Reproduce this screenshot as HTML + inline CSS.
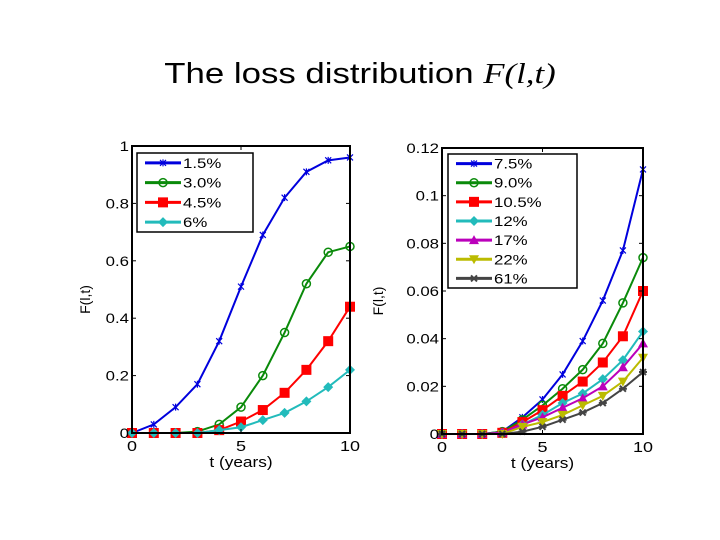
<!DOCTYPE html>
<html><head><meta charset="utf-8"><style>
body{margin:0;background:#fff;width:720px;height:540px;overflow:hidden;font-family:"Liberation Sans",sans-serif}
svg{position:absolute;left:0;top:0}
</style></head><body>
<svg width="720" height="540" id="svg">
<text x="0" y="0" transform="translate(360,83) scale(1.2,1)" text-anchor="middle" font-size="29" font-family="Liberation Sans, sans-serif">The loss distribution <tspan font-family="Liberation Serif, serif" font-style="italic">F(l,t)</tspan></text>
</svg>
<script>
const tVals=[0,1,2,3,4,5,6,7,8,9,10];
const leftLabels=["1.5%","3.0%","4.5%","6%"];
const leftA=[0,0.03,0.09,0.17,0.32,0.51,0.69,0.82,0.91,0.95,0.96];
const leftB=[0,0,0,0.005,0.03,0.09,0.2,0.35,0.52,0.63,0.65];
const leftC=[0,0,0,0,0.01,0.04,0.08,0.14,0.22,0.32,0.44];
const leftD=[0,0,0,0,0.01,0.02,0.045,0.07,0.11,0.16,0.22];
const rightLabels=["7.5%","9.0%","10.5%","12%","17%","22%","61%"];
const rightA=[0,0,0,0.001,0.007,0.0145,0.025,0.039,0.056,0.077,0.111];
const rightB=[0,0,0,0.001,0.006,0.012,0.019,0.027,0.038,0.055,0.074];
const rightC=[0,0,0,0.0005,0.005,0.01,0.016,0.022,0.03,0.041,0.06];
const rightD=[0,0,0,0.0005,0.004,0.008,0.013,0.017,0.023,0.031,0.043];
const rightE=[0,0,0,0.0005,0.004,0.007,0.011,0.015,0.02,0.028,0.038];
const rightF=[0,0,0,0,0.003,0.005,0.008,0.012,0.016,0.022,0.032];
const rightG=[0,0,0,0,0.001,0.003,0.006,0.009,0.013,0.019,0.026];
const leftYTicks=[0,0.2,0.4,0.6,0.8,1];
const leftYTickLabels=["0","0.2","0.4","0.6","0.8","1"];
const rightYTicks=[0,0.02,0.04,0.06,0.08,0.1,0.12];
const rightYTickLabels=["0","0.02","0.04","0.06","0.08","0.1","0.12"];
const xTicks=[0,5,10];

const svg=document.getElementById('svg');
const NS='http://www.w3.org/2000/svg';
function mk(tag,attrs,parent){const e=document.createElementNS(NS,tag);for(const k in attrs)e.setAttribute(k,attrs[k]);(parent||svg).appendChild(e);return e;}
function marker(g,shape,x,y,c){
  if(shape==='x'){mk('path',{d:`M${x-3},${y-3}L${x+3},${y+3}M${x-3},${y+3}L${x+3},${y-3}M${x},${y-3.5}L${x},${y+3.5}`,stroke:c,'stroke-width':1.2},g);}
  else if(shape==='o'){mk('circle',{cx:x,cy:y,r:4,fill:'none',stroke:c,'stroke-width':1.5},g);}
  else if(shape==='s'){mk('rect',{x:x-5,y:y-5,width:10,height:10,fill:c},g);}
  else if(shape==='d'){mk('path',{d:`M${x},${y-5}L${x+5},${y}L${x},${y+5}L${x-5},${y}Z`,fill:c},g);}
  else if(shape==='^'){mk('path',{d:`M${x},${y-5}L${x+5},${y+4}L${x-5},${y+4}Z`,fill:c},g);}
  else if(shape==='v'){mk('path',{d:`M${x},${y+5}L${x+5},${y-4}L${x-5},${y-4}Z`,fill:c},g);}
  else if(shape==='*'){mk('path',{d:`M${x-3},${y-3}L${x+3},${y+3}M${x-3},${y+3}L${x+3},${y-3}M${x-4},${y}L${x+4},${y}`,stroke:c,'stroke-width':2},g);}
}
function panel(name,box,ymax,yt,ytl,series,labels,colors,shapes,widths,leg){
  const xs=v=>box.x0+(box.x1-box.x0)*v/10;
  const ys=v=>box.y1-(box.y1-box.y0)*v/ymax;
  const g=mk('g',{});
  
  
  series.forEach((s,i)=>{
    const sg=mk('g',{},g);
    
    
    mk('polyline',{points:s.map((v,j)=>xs(tVals[j])+','+ys(v)).join(' '),fill:'none',stroke:colors[i],'stroke-width':widths[i]},sg);
    s.forEach((v,j)=>marker(sg,shapes[i],xs(tVals[j]),ys(v),colors[i]));
  });
  const fr=mk('rect',{x:box.x0,y:box.y0,width:box.x1-box.x0,height:box.y1-box.y0,fill:'none',stroke:'#000','stroke-width':2},g);
  
  
  yt.forEach((v,i)=>{
    mk('line',{x1:box.x0,x2:box.x0+4,y1:ys(v),y2:ys(v),stroke:'#000'},g);
    mk('line',{x1:box.x1,x2:box.x1-4,y1:ys(v),y2:ys(v),stroke:'#000'},g);
    const t=mk('text',{x:0,y:0,transform:`translate(${box.x0-3},${ys(v)+5}) scale(1.2,1)`,'text-anchor':'end','font-size':14},g);t.textContent=ytl[i];
    
    
  });
  xTicks.forEach(v=>{
    mk('line',{x1:xs(v),x2:xs(v),y1:box.y1,y2:box.y1-4,stroke:'#000'},g);
    mk('line',{x1:xs(v),x2:xs(v),y1:box.y0,y2:box.y0+4,stroke:'#000'},g);
    const t=mk('text',{x:0,y:0,transform:`translate(${xs(v)},${box.y1+18}) scale(1.2,1)`,'text-anchor':'middle','font-size':15},g);t.textContent=v;
    
    
  });
  const xl=mk('text',{x:0,y:0,transform:`translate(${(box.x0+box.x1)/2},${box.y1+34}) scale(1.15,1)`,'text-anchor':'middle','font-size':15},g);xl.textContent='t (years)';
  
  
  const yl=mk('text',{x:0,y:0,'text-anchor':'middle','font-size':14,transform:`translate(${box.ylx},${(box.y0+box.y1)/2+10}) rotate(-90)`},g);yl.textContent='F(l,t)';
  
  
  const lg=mk('g',{},g);
  
  
  mk('rect',{x:leg.x,y:leg.y,width:leg.w,height:leg.h,fill:'#fff',stroke:'#000','stroke-width':1.5},lg);
  const rh=leg.h/labels.length;
  labels.forEach((l,i)=>{
    const cy=leg.y+rh*(i+0.5);
    const eg=mk('g',{},lg);
    
    
    mk('line',{x1:leg.x+8,x2:leg.x+44,y1:cy,y2:cy,stroke:colors[i],'stroke-width':3},eg);
    marker(eg,shapes[i],leg.x+26,cy,colors[i]);
    const t=mk('text',{x:0,y:0,transform:`translate(${leg.x+46},${cy+5}) scale(1.2,1)`,'font-size':14},eg);t.textContent=l;
  });
}
panel('left',{x0:132,x1:350,y0:146,y1:433,ylx:90},1,leftYTicks,leftYTickLabels,[leftA,leftB,leftC,leftD],leftLabels,
 ['#0000dd','#0a8a0a','#ff0000','#22bbbb'],['x','o','s','d'],[2,2,2,2],{x:137,y:153,w:116,h:79});
panel('right',{x0:442,x1:643,y0:148,y1:434,ylx:383},0.12,rightYTicks,rightYTickLabels,[rightA,rightB,rightC,rightD,rightE,rightF,rightG],rightLabels,
 ['#0000dd','#0a8a0a','#ff0000','#22bbbb','#bb00bb','#bbbb00','#444444'],['x','o','s','d','^','v','*'],[2,2,2,2,2,2,2],{x:448,y:154,w:129,h:134});
</script>
</body></html>
